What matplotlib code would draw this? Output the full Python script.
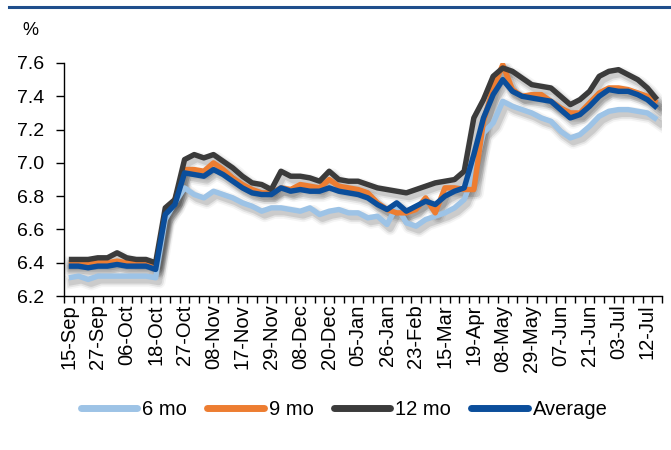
import numpy as np
import matplotlib
matplotlib.use("Agg")
import matplotlib.pyplot as plt
from matplotlib.lines import Line2D
from matplotlib.ticker import FixedLocator
import matplotlib.transforms as mtransforms

plt.rcParams["font.family"] = ["Liberation Sans", "DejaVu Sans"]

# weekly yields, %
date_labels = ["15-Sep", "27-Sep", "06-Oct", "18-Oct", "27-Oct", "08-Nov", "17-Nov",
               "29-Nov", "08-Dec", "20-Dec", "05-Jan", "26-Jan", "23-Feb", "15-Mar",
               "19-Apr", "08-May", "29-May", "07-Jun", "21-Jun", "03-Jul", "12-Jul"]

six_mo = [6.31, 6.32, 6.30, 6.32, 6.32, 6.32, 6.32, 6.32, 6.32, 6.31,
          6.66, 6.76, 6.85, 6.81, 6.79, 6.83, 6.81, 6.79, 6.76, 6.74,
          6.71, 6.73, 6.73, 6.72, 6.71, 6.73, 6.69, 6.71, 6.72, 6.70,
          6.70, 6.67, 6.68, 6.63, 6.74, 6.64, 6.62, 6.66, 6.68, 6.70,
          6.73, 6.78, 6.93, 7.18, 7.24, 7.37, 7.34, 7.32, 7.30, 7.27,
          7.25, 7.19, 7.15, 7.17, 7.22, 7.28, 7.31, 7.32, 7.32, 7.31,
          7.30, 7.26]

nine_mo = [6.40, 6.40, 6.40, 6.40, 6.40, 6.41, 6.40, 6.40, 6.40, 6.38,
           6.70, 6.78, 6.96, 6.96, 6.95, 7.00, 6.96, 6.91, 6.87, 6.84,
           6.82, 6.82, 6.85, 6.84, 6.87, 6.86, 6.85, 6.90, 6.86, 6.85,
           6.84, 6.82, 6.76, 6.72, 6.70, 6.70, 6.72, 6.79, 6.70, 6.85,
           6.85, 6.84, 6.84, 7.25, 7.45, 7.59, 7.44, 7.40, 7.41, 7.41,
           7.37, 7.33, 7.30, 7.30, 7.36, 7.42, 7.45, 7.45, 7.44, 7.42,
           7.40, 7.36]

twelve_mo = [6.42, 6.42, 6.42, 6.43, 6.43, 6.46, 6.43, 6.42, 6.42, 6.40,
             6.73, 6.78, 7.02, 7.05, 7.03, 7.05, 7.01, 6.97, 6.92, 6.88,
             6.87, 6.84, 6.95, 6.92, 6.92, 6.91, 6.89, 6.95, 6.90, 6.89,
             6.89, 6.87, 6.85, 6.84, 6.83, 6.82, 6.84, 6.86, 6.88, 6.89,
             6.90, 6.95, 7.27, 7.38, 7.52, 7.57, 7.55, 7.51, 7.47, 7.46,
             7.45, 7.40, 7.35, 7.38, 7.43, 7.52, 7.55, 7.56, 7.53, 7.50,
             7.45, 7.38]

average = [6.38, 6.38, 6.37, 6.38, 6.38, 6.39, 6.38, 6.38, 6.38, 6.36,
           6.69, 6.75, 6.94, 6.93, 6.92, 6.96, 6.93, 6.89, 6.85, 6.82,
           6.81, 6.81, 6.85, 6.83, 6.84, 6.83, 6.83, 6.85, 6.83, 6.82,
           6.81, 6.79, 6.75, 6.72, 6.76, 6.71, 6.74, 6.77, 6.75, 6.80,
           6.83, 6.85, 7.05, 7.27, 7.41, 7.50, 7.43, 7.40, 7.39, 7.38,
           7.37, 7.32, 7.27, 7.29, 7.34, 7.40, 7.44, 7.43, 7.43, 7.41,
           7.38, 7.33]

series = [("6 mo", six_mo, "#9DC3E6"),
          ("9 mo", nine_mo, "#ED7D31"),
          ("12 mo", twelve_mo, "#3B3B3B"),
          ("Average", average, "#0B4E9B")]

FS = 14.5

fig = plt.figure(figsize=(6.71, 4.5), dpi=100)
ax = fig.add_axes([0.0954, 0.342, 0.891, 0.518])

x = np.arange(len(six_mo))

# soft drop shadow under every series, drawn first
shadow = mtransforms.offset_copy(ax.transData, fig=fig, x=3, y=-4, units="dots")
for _, vals, _ in series:
    for lw, a in [(10, 0.04), (7.5, 0.07), (5, 0.10)]:
        ax.plot(x, vals, color="black", lw=lw, alpha=a, transform=shadow,
                solid_joinstyle="round", zorder=1)

for name, vals, col in series:
    ax.plot(x, vals, color=col, lw=3.9, solid_joinstyle="round",
            solid_capstyle="butt", zorder=3)

ax.set_xlim(-0.5, len(x) - 0.5)
ax.set_ylim(6.2, 7.6)
ax.set_yticks(np.arange(6.2, 7.61, 0.2))
ax.set_yticklabels([f"{v:.1f}" for v in np.arange(6.2, 7.61, 0.2)], fontsize=FS - 0.5)
ax.set_xticks(np.arange(0, len(x), 3))
ax.set_xticklabels(date_labels, rotation=90, fontsize=FS)
ax.xaxis.set_minor_locator(FixedLocator(np.arange(-0.5, len(x), 1.0)))
ax.tick_params(axis="x", which="major", length=0, pad=6)
ax.tick_params(axis="x", which="minor", length=5, width=1, direction="out")
ax.tick_params(axis="y", length=6, width=1, direction="out", pad=8)

for s in ["top", "right"]:
    ax.spines[s].set_visible(False)
for s in ["left", "bottom"]:
    ax.spines[s].set_color("black")
    ax.spines[s].set_linewidth(1.0)

fig.text(0.033, 0.933, "%", fontsize=FS - 1.5, ha="left", va="center")

# header rule
fig.add_artist(Line2D([0.013, 1.0], [0.985, 0.985], color="#1F4E8C", lw=2.2))

handles = [Line2D([], [], color=c, lw=5, solid_capstyle="round") for _, _, c in series]
fig.legend(handles, [n for n, _, _ in series], loc="center", bbox_to_anchor=(0.513, 0.091),
           ncol=4, frameon=False, fontsize=FS, handlelength=2.8, handletextpad=0.25,
           columnspacing=1.0)

fig.savefig("out.png", dpi=100)
